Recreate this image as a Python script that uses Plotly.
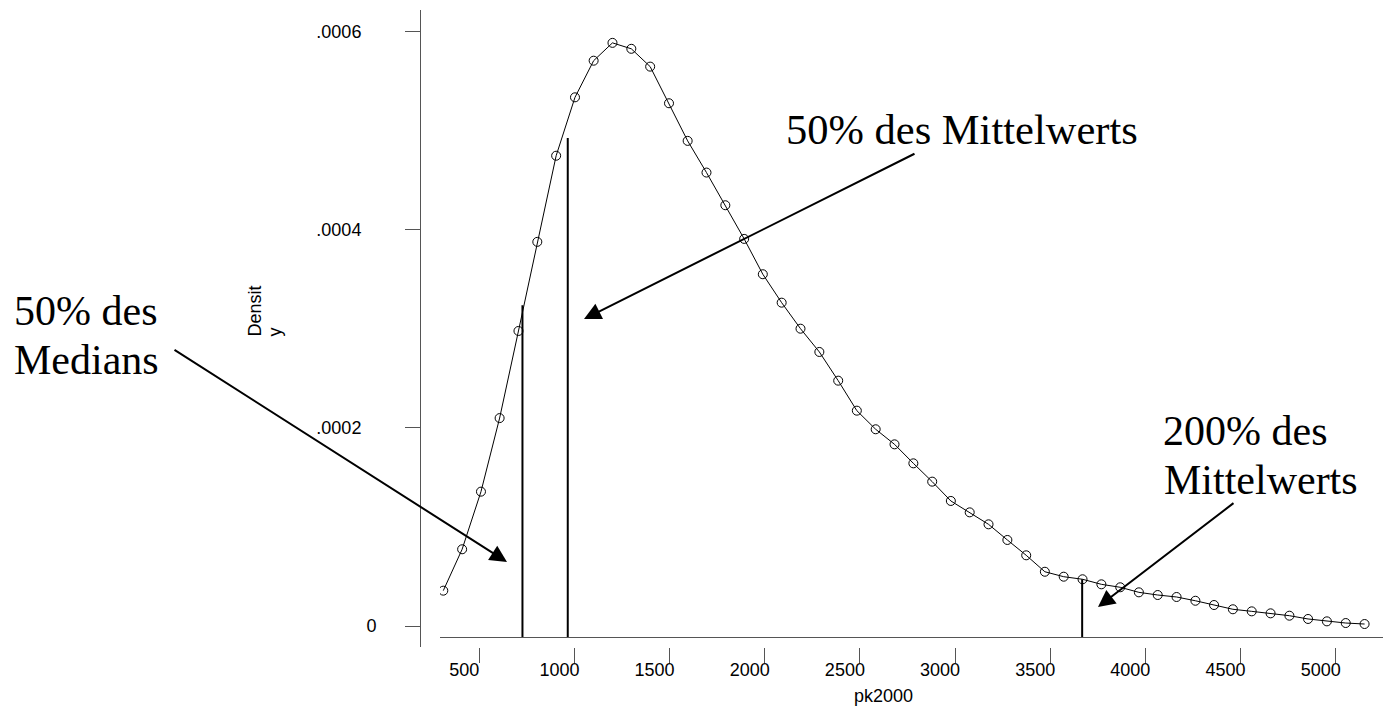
import plotly.graph_objects as go

# ---- data ----
x_vals = [311, 410, 509, 607, 706, 805, 904, 1003, 1101, 1200,
          1299, 1398, 1497, 1595, 1694, 1793, 1892, 1990, 2089, 2188,
          2287, 2386, 2484, 2583, 2682, 2781, 2880, 2978, 3077, 3176,
          3275, 3374, 3472, 3571, 3670, 3769, 3868, 3966, 4065, 4164,
          4263, 4361, 4460, 4559, 4658, 4757, 4855, 4954, 5053, 5152]
density = [3.57e-5, 7.75e-5, 1.357e-4, 2.10e-4, 2.98e-4, 3.88e-4, 4.75e-4, 5.34e-4, 5.71e-4, 5.89e-4,
           5.83e-4, 5.65e-4, 5.28e-4, 4.90e-4, 4.58e-4, 4.25e-4, 3.91e-4, 3.553e-4, 3.266e-4, 3.003e-4,
           2.768e-4, 2.478e-4, 2.175e-4, 1.987e-4, 1.835e-4, 1.643e-4, 1.458e-4, 1.263e-4, 1.148e-4, 1.027e-4,
           8.69e-5, 7.14e-5, 5.48e-5, 4.98e-5, 4.72e-5, 4.21e-5, 3.91e-5, 3.40e-5, 3.13e-5, 2.93e-5,
           2.55e-5, 2.12e-5, 1.69e-5, 1.48e-5, 1.28e-5, 1.04e-5, 7.1e-6, 4.7e-6, 3.0e-6, 2.0e-6]
ref_x = [727, 965, 3668]          # 50% median, 50% mean, 200% mean
ref_top = [3.24e-4, 4.93e-4, 4.72e-5]
x_ticks = [500, 1000, 1500, 2000, 2500, 3000, 3500, 4000, 4500, 5000]
y_ticks = [0, 0.0002, 0.0004, 0.0006]
y_ticktext = ["0", ".0002", ".0004", ".0006"]

# ---- geometry (page is rendered with an 8px body margin) ----
W, H = 1391, 706
OFF = 8
L, R, T, B = 420 - OFF, OFF, 10 - OFF, H - (647 - OFF)
PW, PH = W - L - R, H - T - B
Y_RANGE = [-2.121e-5, 6.222e-4]
X_RANGE = [293.7, 5290.8]
AXIS_Y_PX = 637  # page pixel row of x-axis line
y_base = Y_RANGE[0] + (Y_RANGE[1] - Y_RANGE[0]) * (647 - AXIS_Y_PX) / PH


def px(xp, yp):
    # page pixel -> paper fraction
    return (xp - 420) / PW, (647 - yp) / PH


SANS = "Liberation Sans, Arial, Helvetica, sans-serif"
SERIF = "Liberation Serif, Times New Roman, serif"

fig = go.Figure()
fig.add_trace(go.Scatter(
    x=x_vals, y=density, mode="lines+markers",
    line=dict(color="black", width=1),
    marker=dict(symbol="circle-open", size=9, color="black", line=dict(width=1)),
    hoverinfo="skip", showlegend=False))

vx, vy = [], []
for xv, top in zip(ref_x, ref_top):
    vx += [xv, xv, None]
    vy += [y_base, top, None]
fig.add_trace(go.Scatter(
    x=vx, y=vy, mode="lines", xaxis="x2",
    line=dict(color="black", width=2), hoverinfo="skip", showlegend=False))

ticktext_y = [t if t == "0" else t + "\u00a0\u00a0\u00a0" for t in y_ticktext]

fig.update_layout(
    width=W, height=H,
    margin=dict(l=L, r=R, t=T, b=B, pad=0),
    paper_bgcolor="white", plot_bgcolor="white",
    font=dict(family=SANS, size=18, color="black"),
    xaxis=dict(
        domain=[20 / PW, 1], range=X_RANGE, anchor="free",
        position=(647 - AXIS_Y_PX) / PH,
        showline=True, linecolor="#555", linewidth=1,
        ticks="", showticklabels=False, showgrid=False, zeroline=False),
    xaxis2=dict(
        domain=[20 / PW, 1], matches="x", overlaying="x", anchor="free", position=0,
        side="bottom", showline=False, ticks="outside", ticklen=15, tickwidth=1,
        tickcolor="#555", tickvals=x_ticks, ticktext=[str(v) for v in x_ticks],
        ticklabelshift=-15, ticklabelstandoff=-9,
        showgrid=False, zeroline=False),
    yaxis=dict(
        domain=[0, 1], range=Y_RANGE, anchor="free", position=0,
        showline=True, linecolor="#555", linewidth=1,
        ticks="outside", ticklen=15, tickwidth=1, tickcolor="#555",
        tickvals=y_ticks, ticktext=ticktext_y, ticklabelstandoff=25,
        showgrid=False, zeroline=False),
)

ann = []


def text_ann(text, xp, yp, size, family, xanchor="left", yanchor="middle", angle=0):
    x, y = px(xp, yp)
    ann.append(dict(text=text, x=x, y=y, xref="paper", yref="paper", showarrow=False,
                    xanchor=xanchor, yanchor=yanchor, textangle=angle, borderpad=0,
                    font=dict(family=family, size=size, color="black")))


text_ann("50% des Mittelwerts", 785, 129, 42.5, SERIF)
text_ann("50% des", 13, 311, 42, SERIF)
text_ann("Medians", 13, 360, 42, SERIF)
text_ann("200% des", 1162, 431, 42, SERIF)
text_ann("Mittelwerts", 1163, 480, 42, SERIF)
text_ann("Densit", 254, 338, 18, SANS, xanchor="center", yanchor="bottom", angle=-90)
text_ann("y", 274, 338, 18, SANS, xanchor="center", yanchor="bottom", angle=-90)
text_ann("pk2000", 883, 696, 18, SANS, xanchor="center")

arrows = [((584, 319), (916, 153)), ((507, 562), (173, 349)), ((1098, 607), (1235, 502))]
for (tx, ty), (sx, sy) in arrows:
    x, y = px(tx, ty)
    ann.append(dict(text="", x=x, y=y, xref="paper", yref="paper", showarrow=True,
                    ax=sx - tx, ay=sy - ty, arrowhead=2, arrowsize=1.7, arrowwidth=2,
                    arrowcolor="black", standoff=0))

fig.update_layout(annotations=ann)
fig.write_html("out.html")
